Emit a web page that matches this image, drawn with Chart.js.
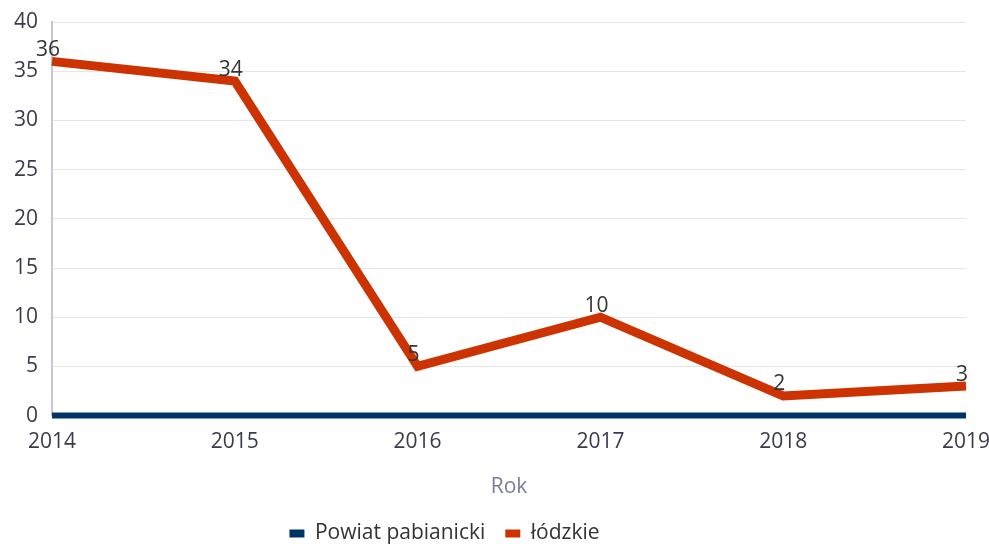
<!DOCTYPE html>
<html>
<head>
<meta charset="utf-8">
<script src="https://cdn.jsdelivr.net/npm/chart.js@4"></script>
<style>
  html, body { margin: 0; padding: 0; background: #fff; }
  .chart-container { width: 989px; height: 544px; position: relative; }
</style>
</head>
<body>
<div class="chart-container"><canvas id="lineChart"></canvas></div>
<script>
  const years = ['2014', '2015', '2016', '2017', '2018', '2019'];
  const powiatValues = [0, 0, 0, 0, 0, 0];
  const lodzkieValues = [36, 34, 5, 10, 2, 3];
  const seriesNames = ['Powiat pabianicki', 'łódzkie'];

  const fontFamily = "'Open Sans', 'Noto Sans', sans-serif";

  // simple value labels above the łódzkie points
  const valueLabels = {
    id: 'valueLabels',
    afterDatasetsDraw(chart) {
      const ctx = chart.ctx;
      const meta = chart.getDatasetMeta(1);
      ctx.save();
      ctx.font = '21px ' + fontFamily;
      ctx.fillStyle = '#333333';
      ctx.textAlign = 'center';
      ctx.textBaseline = 'bottom';
      meta.data.forEach((pt, i) => {
        ctx.fillText(lodzkieValues[i], pt.x - 4, pt.y - 1);
      });
      ctx.restore();
    }
  };

  // legend: a bit left of centre and tighter vertically than chart.js gives
  const legendTweak = {
    id: 'legendTweak',
    beforeLayout(chart) {
      const legend = chart.legend;
      if (legend && !legend._tweaked) {
        const origFit = legend.fit;
        legend.fit = function() {
          origFit.call(this);
          this.height -= 10;
        };
        legend._tweaked = true;
      }
    },
    afterLayout(chart) {
      chart.legend.left -= 50;
      chart.legend.right -= 50;
    }
  };

  const ctx = document.getElementById('lineChart').getContext('2d');
  new Chart(ctx, {
    type: 'line',
    data: {
      labels: years,
      datasets: [{
        label: seriesNames[0],
        data: powiatValues,
        borderColor: '#003366',
        backgroundColor: '#003366',
        borderWidth: 6,
        pointRadius: 0,
        tension: 0,
        clip: false
      }, {
        label: seriesNames[1],
        data: lodzkieValues,
        borderColor: '#cc3300',
        backgroundColor: '#cc3300',
        borderWidth: 9,
        pointRadius: 0,
        tension: 0,
        clip: false
      }]
    },
    options: {
      responsive: true,
      maintainAspectRatio: false,
      animation: false,
      layout: {
        padding: { top: 22, right: 0, bottom: 0, left: 0 }
      },
      scales: {
        x: {
          offset: false,
          grid: { display: false, drawTicks: false },
          border: { display: false },
          afterFit(scale) {
            scale.paddingRight = 23;
          },
          ticks: {
            color: '#3a3a4e',
            font: { size: 21, family: fontFamily },
            padding: 14,
            maxRotation: 0
          },
          title: {
            display: true,
            text: 'Rok',
            color: '#7b7b9c',
            font: { size: 21, family: fontFamily },
            padding: { top: 6, bottom: 3 }
          }
        },
        y: {
          min: 0,
          max: 40,
          afterFit(scale) {
            scale.paddingTop = 0;
          },
          ticks: {
            stepSize: 5,
            color: '#3a3a4e',
            font: { size: 21, family: fontFamily },
            padding: 14
          },
          grid: { color: '#e6e6ea', drawTicks: false },
          border: { display: true, color: '#c2c6d6', width: 2 }
        }
      },
      plugins: {
        legend: {
          position: 'bottom',
          labels: {
            boxWidth: 15,
            boxHeight: 8,
            color: '#333333',
            font: { size: 21, family: fontFamily },
            padding: 20,
            generateLabels(chart) {
              return Chart.defaults.plugins.legend.labels.generateLabels(chart)
                .map(item => Object.assign(item, { lineWidth: 0 }));
            }
          }
        },
        tooltip: { enabled: false }
      }
    },
    plugins: [valueLabels, legendTweak]
  });
</script>
</body>
</html>
